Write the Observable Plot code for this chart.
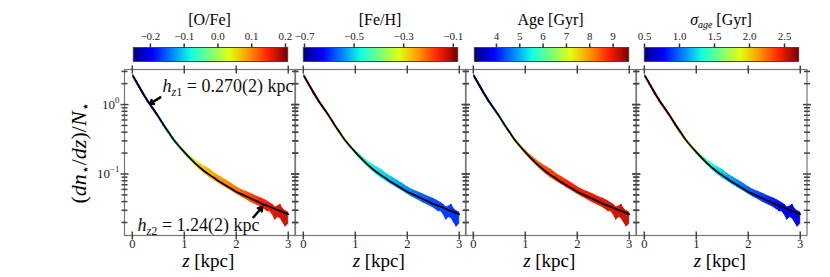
<!DOCTYPE html>
<html><head><meta charset="utf-8">
<script src="https://cdn.jsdelivr.net/npm/d3@7"></script>
<script src="https://cdn.jsdelivr.net/npm/@observablehq/plot@0.6"></script>
<style>
body{margin:0;background:#fff;}
#wrap{position:relative;width:830px;height:277px;font-family:"Liberation Serif","Times New Roman",serif;color:#000;overflow:hidden;}
.abs{position:absolute;white-space:nowrap;}
svg{overflow:visible;}
.ssub{font-size:0.62em;position:relative;top:0.3em;}
</style></head><body><div id="wrap"></div>
<script>
// ---------------- data ----------------
const bandZ  = [0.02,0.1,0.2,0.3,0.4,0.5,0.6,0.7,0.8,0.9,1.0,1.1,1.2,1.3,1.4,1.5,1.6,1.7,1.8,1.9,2.0,2.1,2.2,2.3,2.4,2.5,2.55,2.6,2.65,2.7,2.75,2.8,2.85,2.9,2.95,3.0];
const bandLo = [2.45,1.92,1.42,1.075,0.835,0.65,0.492,0.381,0.296,0.24,0.197,0.163,0.137,0.116,0.1,0.088,0.079,0.071,0.064,0.058,0.052,0.047,0.043,0.039,0.036,0.033,0.031,0.029,0.029,0.026,0.022,0.024,0.023,0.02,0.0175,0.019];
const bandHi = [2.65,2.08,1.54,1.165,0.905,0.705,0.535,0.416,0.324,0.264,0.22,0.186,0.162,0.142,0.127,0.115,0.1,0.09,0.081,0.073,0.065,0.059,0.055,0.051,0.047,0.044,0.042,0.040,0.038,0.036,0.033,0.034,0.036,0.031,0.029,0.028];
const oFeVals = [-0.2,-0.196,-0.192,-0.187,-0.178,-0.159,-0.131,-0.1,-0.068,-0.036,-0.008,0.014,0.037,0.056,0.069,0.078,0.085,0.092,0.097,0.101,0.106,0.115,0.124,0.133,0.142,0.149,0.154,0.158,0.16,0.163,0.165,0.167,0.17,0.172,0.174,0.176];
const feHVals = [-0.133,-0.137,-0.145,-0.164,-0.195,-0.226,-0.263,-0.3,-0.344,-0.387,-0.412,-0.437,-0.456,-0.474,-0.484,-0.49,-0.499,-0.511,-0.521,-0.53,-0.539,-0.549,-0.558,-0.567,-0.574,-0.58,-0.583,-0.586,-0.586,-0.589,-0.589,-0.592,-0.592,-0.595,-0.595,-0.598];
const ageVals = [3.85,3.9,4.0,4.28,4.78,5.44,6.23,7.02,7.48,7.81,8.08,8.21,8.34,8.44,8.54,8.6,8.67,8.74,8.8,8.84,8.87,8.9,8.93,8.97,9.0,9.03,9.07,9.08,9.1,9.12,9.13,9.15,9.17,9.18,9.2,9.21];
const sigVals = [2.5,2.5,2.49,2.48,2.46,2.43,2.37,2.24,2.0,1.82,1.69,1.56,1.47,1.38,1.29,1.23,1.16,1.12,1.07,1.03,0.995,0.96,0.93,0.9,0.86,0.83,0.81,0.79,0.78,0.76,0.74,0.73,0.72,0.71,0.7,0.69];

const fitZ = [0.02,0.1,0.2,0.3,0.4,0.5,0.6,0.7,0.8,0.9,1.0,1.1,1.2,1.3,1.4,1.5,1.6,1.7,1.8,1.9,2.0,2.1,2.2,2.3,2.4,2.5,2.6,2.7,2.8,2.9,3.0];
const fitN = [2.55,2.0,1.48,1.12,0.87,0.676,0.513,0.398,0.309,0.251,0.207,0.172,0.145,0.124,0.108,0.0955,0.0851,0.0759,0.0684,0.0617,0.0556,0.0513,0.0473,0.0437,0.0403,0.0372,0.0347,0.0324,0.0302,0.0282,0.0263];

const oFeDomain = [-0.25, 0.206], oFeTicks = [-0.2,-0.1,0,0.1,0.2], oFeLabels = ["−0.2","−0.1","0.0","0.1","0.2"];
const feHDomain = [-0.704, -0.083], feHTicks = [-0.7,-0.5,-0.3,-0.1], feHLabels = ["−0.7","−0.5","−0.3","−0.1"];
const ageDomain = [3.06, 9.66], ageTicks = [4,5,6,7,8,9], ageLabels = ["4","5","6","7","8","9"];
const sigDomain = [0.5, 2.7], sigTicks = [0.5,1.0,1.5,2.0,2.5], sigLabels = ["0.5","1.0","1.5","2.0","2.5"];

const xDomain = [-0.15, 3.13], yDomain = [0.013, 3.2];
const zTicks = [0,1,2,3], zLabels = ["0","1","2","3"];
const yMajor = [1, 0.1], yMajorLabels = ["10^0","10^-1"];
const yMinor = [0.02,0.03,0.04,0.05,0.06,0.07,0.08,0.09,0.2,0.3,0.4,0.5,0.6,0.7,0.8,0.9,2,3];

const annZ = [0.58, 0.1], annN = [1.84, 0.0182], annText = ["hz1 = 0.270(2) kpc", "hz2 = 1.24(2) kpc"];
const arrTailZ = [0.54, 2.33], arrTailN = [1.27, 0.0238], arrTipZ = [0.34, 2.5], arrTipN = [1.03, 0.0335];

// ---------------- styles ----------------
const jetColors = ["#000080","#0000ff","#0080ff","#14ffe2","#7bff7b","#e2ff14","#ff9700","#ff2100","#800000"];
const jet = d3.piecewise(d3.interpolateRgb, jetColors);
const panelLeft = [124, 294.5, 465, 635.5], panelTop = 69, W = 170.5, H = 166, M = 8;
const SERIF = '"Liberation Serif","Times New Roman",serif';

const vtick = {draw(c, s){ const r = Math.sqrt(s/Math.PI); c.moveTo(0,-r); c.lineTo(0,r);} };
const htick = {draw(c, s){ const r = Math.sqrt(s/Math.PI); c.moveTo(-r,0); c.lineTo(r,0);} };

const richParts = {
  "10^0": [{t:"10"},{t:"0",sup:true}],
  "10^-1": [{t:"10"},{t:"−1",sup:true}],
  "hz1 = 0.270(2) kpc": [{t:"h",i:true},{t:"z",i:true,sub:true},{t:"1",sub:true},{t:" = 0.270(2) kpc"}],
  "hz2 = 1.24(2) kpc": [{t:"h",i:true},{t:"z",i:true,sub:true},{t:"2",sub:true},{t:" = 1.24(2) kpc"}]
};
function richify(svg){
  svg.querySelectorAll("text").forEach(el => {
    const parts = richParts[el.textContent];
    if (!parts) return;
    el.textContent = "";
    let shift = 0;
    for (const p of parts){
      const ts = document.createElementNS("http://www.w3.org/2000/svg","tspan");
      ts.textContent = p.t;
      if (p.i) ts.setAttribute("font-style","italic");
      const target = p.sub ? 4 : p.sup ? -6 : 0;
      if (target - shift) ts.setAttribute("dy", target - shift);
      shift = target;
      if (p.sub || p.sup) ts.setAttribute("font-size","0.68em");
      el.appendChild(ts);
    }
  });
}

const panels = [
  {vals: oFeVals, domain: oFeDomain, ticks: oFeTicks, labels: oFeLabels, title: "[O/Fe]"},
  {vals: feHVals, domain: feHDomain, ticks: feHTicks, labels: feHLabels, title: "[Fe/H]"},
  {vals: ageVals, domain: ageDomain, ticks: ageTicks, labels: ageLabels, title: "Age [Gyr]"},
  {vals: sigVals, domain: sigDomain, ticks: sigTicks, labels: sigLabels, title: '<i>σ</i><i style="font-size:0.62em;position:relative;top:0.3em">age</i> [Gyr]'}
];

const wrap = document.getElementById("wrap");
function place(node, left, top){ node.style.position = "absolute"; node.style.left = left + "px"; node.style.top = top + "px"; wrap.appendChild(node); }

panels.forEach((p, k) => {
  const colorOpts = {type: "linear", domain: p.domain, interpolate: jet};
  const rows = [];
  for (let i = 0; i < bandZ.length - 1; i++){
    const c = (p.vals[i] + p.vals[i+1]) / 2;
    rows.push({s: i, z: bandZ[i], lo: bandLo[i], hi: bandHi[i], c});
    rows.push({s: i, z: bandZ[i+1], lo: bandLo[i+1], hi: bandHi[i+1], c});
  }
  const marks = [
    Plot.areaY(rows, {x: "z", y1: "lo", y2: "hi", z: "s", fill: "c", stroke: "c", strokeWidth: 0.8}),
    Plot.line(fitZ.map((z, i) => ({z, n: fitN[i]})), {x: "z", y: "n", stroke: "black", strokeWidth: 1.8, curve: "monotone-x"}),
    Plot.frame({stroke: "#777", strokeWidth: 1.2}),
    Plot.dot(zTicks, {x: d => d, y: yDomain[0], symbol: vtick, r: 4, stroke: "#444", fill: "none"}),
    Plot.dot(zTicks, {x: d => d, y: yDomain[1], symbol: vtick, r: 4, stroke: "#444", fill: "none"}),
    Plot.dot(yMajor, {x: xDomain[0], y: d => d, symbol: htick, r: 4, stroke: "#444", fill: "none"}),
    Plot.dot(yMajor, {x: xDomain[1], y: d => d, symbol: htick, r: 4, stroke: "#444", fill: "none"}),
    Plot.dot(yMinor, {x: xDomain[0], y: d => d, symbol: htick, r: 3, stroke: "#444", fill: "none"}),
    Plot.dot(yMinor, {x: xDomain[1], y: d => d, symbol: htick, r: 3, stroke: "#444", fill: "none"}),
    Plot.text(zTicks, {x: d => d, y: yDomain[0], dy: 8, text: (d, i) => zLabels[i], fontSize: 12.5, fill: "#222"})
  ];
  if (k === 0){
    marks.push(
      Plot.text(yMajor, {x: xDomain[0], y: d => d, dx: -5, textAnchor: "end", text: (d, i) => yMajorLabels[i], fontSize: 13, fill: "#222"}),
      Plot.text([0, 1], {x: i => annZ[i], y: i => annN[i], text: i => annText[i], textAnchor: "start", fontSize: 18, fill: "#111"}),
      Plot.arrow([0, 1], {x1: i => arrTailZ[i], y1: i => arrTailN[i], x2: i => arrTipZ[i], y2: i => arrTipN[i], stroke: "black", strokeWidth: 2.4, headLength: 8, headAngle: 70})
    );
  }
  const main = Plot.plot({
    width: W + 2*M, height: H + 2*M, margin: M,
    x: {domain: xDomain, axis: null},
    y: {type: "log", domain: yDomain, axis: null},
    color: colorOpts,
    style: {fontFamily: SERIF, background: "transparent", overflow: "visible"},
    marks
  });
  richify(main);
  place(main, panelLeft[k] - M, panelTop - M);

  // colorbar
  const steps = d3.range(301).map(t => p.domain[0] + t/300 * (p.domain[1] - p.domain[0]));
  const cb = Plot.plot({
    width: 174, height: 63, marginLeft: 10, marginRight: 10, marginTop: 47, marginBottom: 2,
    x: {domain: p.domain, axis: null},
    y: {domain: [0, 1], axis: null},
    color: colorOpts,
    style: {fontFamily: SERIF, background: "transparent", overflow: "visible"},
    marks: [
      Plot.ruleX(steps, {x: d => d, y1: 0, y2: 1, stroke: d => d, strokeWidth: 1.3}),
      Plot.frame({stroke: "#444", strokeWidth: 1}),
      Plot.dot(p.ticks, {x: d => d, y: 1, dy: -2, symbol: vtick, r: 2, stroke: "#333", fill: "none"}),
      Plot.text(p.ticks, {x: d => d, y: 1, dy: -11.5, text: (d, i) => p.labels[i], fontSize: 11, fill: "#222"})
    ]
  });
  place(cb, panelLeft[k] - 1.5, 0);

  const t = document.createElement("div");
  t.className = "abs";
  t.innerHTML = p.title;
  t.style.fontSize = "16px"; t.style.lineHeight = "16px"; t.style.width = "154px"; t.style.textAlign = "center";
  place(t, panelLeft[k] + 8.5, 12);

  const xl = document.createElement("div");
  xl.className = "abs";
  xl.innerHTML = "<i>z</i> [kpc]";
  xl.style.fontSize = "19px"; xl.style.lineHeight = "20px"; xl.style.width = W + "px"; xl.style.textAlign = "center";
  place(xl, panelLeft[k] - 1, 251);
});

const yl = document.createElement("div");
yl.className = "abs";
yl.innerHTML = '(<i>dn</i><span class="ssub">⋆</span>/<i>dz</i>)/<i>N</i><span class="ssub">⋆</span>';
yl.style.fontSize = "22px"; yl.style.lineHeight = "24px";
yl.style.transform = "translate(-50%,-50%) rotate(-90deg)";
place(yl, 80, 153);
</script></body></html>
